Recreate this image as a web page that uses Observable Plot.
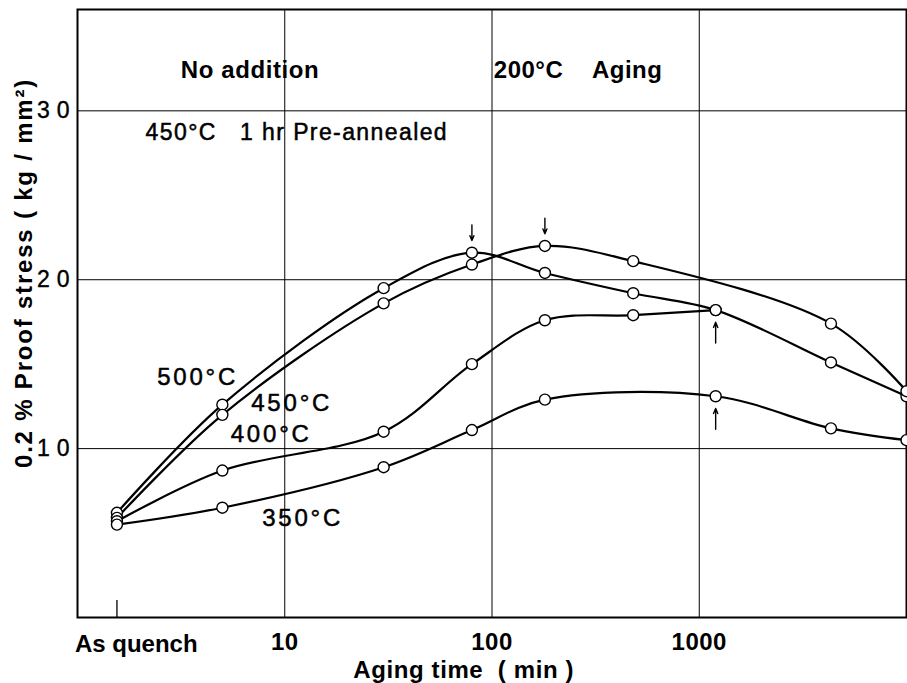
<!DOCTYPE html>
<html>
<head>
<meta charset="utf-8">
<script src="https://cdn.jsdelivr.net/npm/d3@7"></script>
<script src="https://cdn.jsdelivr.net/npm/@observablehq/plot@0.6"></script>
<style>
  body { margin: 0; background: #fff; }
  svg { display: block; }
  g[aria-label="y-axis tick label"] text { letter-spacing: 7px; stroke: #000; stroke-width: 0.4px; }
  g[aria-label="x-axis tick label"] text { letter-spacing: 0.5px; }
</style>
</head>
<body>
<div id="chart"></div>
<script>
// Aging time (min); the as-quenched state is placed left of the 10-min decade.
const AS_QUENCH = 1.55;
const agingTimes = [AS_QUENCH, 5, 30, 80, 180, 480, 1200, 4320, 10000];

// Pre-annealing temperatures and 0.2 % proof stress (kg/mm²) after 200 °C aging.
const seriesNames = ["500°C", "450°C", "400°C", "350°C"];
const stress500 = [6.2, 12.6, 19.5, 21.6, 20.4, 19.2, 18.2, 15.1, 13.1];
const stress450 = [5.9, 12.0, 18.6, 20.9, 22.0, 21.1, null, 17.4, 13.4];
const stress400 = [5.7, 8.7, 11.0, 15.0, 17.6, 17.9, 18.2, null, null];
const stress350 = [5.5, 6.5, 8.9, 11.1, 12.9, null, 13.1, 11.2, 10.5];

// Which side of the peak point the arrow sits on.
const peakSide = ["above", "above", "below", "below"];

const xTicks = [10, 100, 1000];
const xTickLabels = ["10", "100", "1000"];
const yTicks = [10, 20, 30];
const yTickLabels = ["10", "20", "30"];

const titleText = "No addition";
const agingText = "200°C\u00A0\u00A0\u00A0\u00A0Aging";
const annealText = "450°C\u00A0\u00A0\u00A01 hr Pre-annealed";
const xLabel = "Aging time\u00A0 (\u00A0min\u00A0)";
const yLabel = "0.2 % Proof stress ( kg / mm²)";

const seriesValues = [stress500, stress450, stress400, stress350];
const rows = seriesValues.flatMap((vals, i) =>
  vals.map((v, j) => ({series: seriesNames[i], time: agingTimes[j], stress: v}))
      .filter(d => d.stress != null));

// Peak of each curve, marked by a small arrow.
const peaks = seriesValues.map((vals, i) => {
  const j = d3.maxIndex(vals);
  return {series: seriesNames[i], time: agingTimes[j], stress: vals[j], side: peakSide[i]};
});

const FONT = "'Liberation Sans', Arial, sans-serif";
const ink = {fill: "#000", stroke: "#000", strokeWidth: 0.5};

const chart = Plot.plot({
  width: 907,
  height: 683,
  marginLeft: 77,
  marginTop: 9,
  marginRight: 1,
  marginBottom: 66,
  style: {fontFamily: FONT, background: "#fff", color: "#000"},
  x: {type: "log", domain: [1, 10000]},
  y: {domain: [0, 36]},
  marks: [
    Plot.gridX(xTicks, {stroke: "#000", strokeOpacity: 1, strokeWidth: 1}),
    Plot.gridY(yTicks, {stroke: "#000", strokeOpacity: 1, strokeWidth: 1}),
    Plot.frame({stroke: "#000", strokeWidth: 2}),
    Plot.ruleX([AS_QUENCH], {y1: 0, y2: 1, stroke: "#000", strokeWidth: 1.3}),
    Plot.axisX(xTicks, {
      tickSize: 0, tickPadding: 15, fontSize: 24, fontWeight: "bold",
      tickFormat: d => xTickLabels[xTicks.indexOf(d)],
      label: null
    }),
    Plot.text(["As quench"], {
      x: AS_QUENCH, frameAnchor: "bottom", lineAnchor: "middle", dy: 27, dx: -42, textAnchor: "start",
      fontSize: 24, fontWeight: "bold"
    }),
    Plot.text([xLabel], {
      x: 73, frameAnchor: "bottom", lineAnchor: "middle", dy: 53, fontSize: 24, fontWeight: "bold"
    }),
    Plot.axisY(yTicks, {
      tickSize: 0, tickPadding: 1, fontSize: 23, fontWeight: "normal",
      tickFormat: d => yTickLabels[yTicks.indexOf(d)],
      label: null
    }),
    Plot.text([yLabel], {
      y: 20.4, frameAnchor: "left", textAnchor: "middle", lineAnchor: "middle", dx: -53, rotate: -90,
      fontSize: 24, fontWeight: "bold"
    }),
    Plot.line(rows, {x: "time", y: "stress", z: "series", curve: "catmull-rom", stroke: "#000", strokeWidth: 2.2}),
    Plot.dot(rows, {x: "time", y: "stress", r: 5.5, fill: "#fff", stroke: "#000", strokeWidth: 1.4}),
    Plot.arrow(peaks, {
      x1: "time", x2: "time",
      y1: d => d.stress + (d.side === "above" ? 1.65 : -1.95),
      y2: d => d.stress + (d.side === "above" ? 0.72 : -0.72),
      stroke: "#000", strokeWidth: 1.4, headLength: 6, headAngle: 45
    }),
    // Curve labels
    Plot.text([seriesNames[0]], {x: 3.8, y: 14.2, fontSize: 24, ...ink}),
    Plot.text([seriesNames[1]], {x: 10.8, y: 12.7, fontSize: 24, ...ink}),
    Plot.text([seriesNames[2]], {x: 8.6, y: 10.85, fontSize: 24, ...ink}),
    Plot.text([seriesNames[3]], {x: 12.2, y: 5.9, fontSize: 24, ...ink}),
    // Headings
    Plot.text([titleText], {x: 6.8, y: 32.4, fontSize: 24, fontWeight: "bold"}),
    Plot.text([agingText], {x: 102, y: 32.4, textAnchor: "start", fontSize: 24, fontWeight: "bold"}),
    Plot.text([annealText], {x: 2.13, y: 28.7, textAnchor: "start", fontSize: 23, ...ink})
  ]
});

// Wider tracking for the lettering, as on a hand-lettered figure.
const tracking = new Map([
  ...seriesNames.map(s => [s, 2.8]),
  [titleText, 0.6],
  [agingText, 0.5],
  [annealText, 1.4],
  [yLabel, 1.8],
  [xLabel, 0.6]
]);
d3.select(chart).selectAll("text").each(function () {
  const ls = tracking.get(this.textContent);
  if (ls != null) this.style.letterSpacing = ls + "px";
});

document.getElementById("chart").append(chart);
</script>
</body>
</html>
